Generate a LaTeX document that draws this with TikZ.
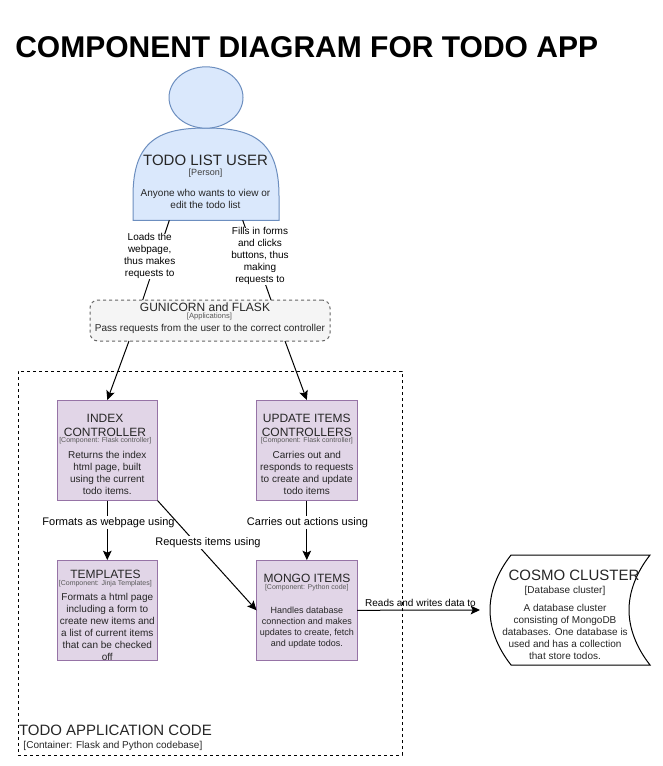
\documentclass[tikz,border=0pt]{standalone}
\usepackage{fontspec}
\setmainfont{Liberation Sans}
\usetikzlibrary{calc,arrows.meta,shapes.geometric}
\tikzset{
  x=0.75pt,y=-0.75pt,
  txt/.style={inner sep=0pt,outer sep=0pt,align=center,text=black},
  big/.style={txt,font=\fontsize{11.25pt}{13.5pt}\selectfont,text=black!85},
  mid/.style={txt,font=\fontsize{9pt}{11pt}\selectfont,text=black!85},
  sub/.style={txt,font=\fontsize{5.25pt}{6.3pt}\selectfont,text=black!65},
  sublg/.style={txt,font=\fontsize{6.75pt}{8pt}\selectfont,text=black!75},
  desc/.style={txt,font=\fontsize{7.5pt}{9pt}\selectfont,text=black!85},
  descsm/.style={txt,font=\fontsize{6.75pt}{8.25pt}\selectfont,text=black!85},
  lab/.style={txt,font=\fontsize{7.5pt}{9pt}\selectfont},
  stacklab/.style={txt,font=\fontsize{7.5pt}{9pt}\selectfont,fill=white},
  elab/.style={txt,font=\fontsize{8.25pt}{10pt}\selectfont,fill=white,inner ysep=1pt},
  fine/.style={dash pattern=on 2.25pt off 2.25pt},
  comp/.style={draw=purpleline,fill=purplefill,line width=0.75pt,minimum width=75.4pt,minimum height=75.4pt,inner sep=0pt,outer sep=0pt},
  link/.style={draw=black,line width=0.75pt},
  arrow/.style={link,-{Stealth[length=7pt,width=6.5pt,inset=1.5pt]}},
}
\definecolor{purplefill}{HTML}{E1D5E7}
\definecolor{purpleline}{HTML}{9673A6}
\definecolor{bluefill}{HTML}{DAE8FC}
\definecolor{blueline}{HTML}{6C8EBF}
\definecolor{greyfill}{HTML}{F5F5F5}
\definecolor{greyline}{HTML}{666666}
\begin{document}
\begin{tikzpicture}
\useasboundingbox (0,0) rectangle (662,766);
\node[anchor=west,inner sep=0pt,font=\fontsize{22.5pt}{27pt}\selectfont\bfseries] (title) at (15,47.5) {COMPONENT DIAGRAM FOR TODO APP};

% person
\node[inner sep=0pt,outer sep=0pt,minimum width=109.5pt,minimum height=69pt] (user) at (206,174.3) {};
\draw[draw=blueline,fill=bluefill,line width=0.75pt] (133,220.5) -- (133,196) .. controls (133,140) and (160,128) .. (206,128) .. controls (252,128) and (279,140) .. (279,196) -- (279,220.5) -- cycle;
\node[ellipse,draw=blueline,fill=bluefill,line width=0.75pt,inner sep=0pt,outer sep=0pt,minimum width=55.5pt,minimum height=46pt] (head) at (206,97.5) {};
\node[big] (usert) at (205.5,160.5) {TODO LIST USER};
\node[sublg] (users) at (205.5,173) {[Person]};
\node[desc] (userd) at (205.5,199.2) {Anyone who wants to view or\\edit the todo list};

% gateway
\node[draw=greyline,fill=greyfill,fine,line width=0.75pt,rounded corners=6pt,minimum width=180pt,minimum height=30.75pt,inner sep=0pt,outer sep=0pt] (gun) at (210,320.5) {};
\node[mid] (gunt) at (205,307.5) {GUNICORN and FLASK};
\node[sub,font=\fontsize{5.7pt}{7pt}\selectfont] (guns) at (209.5,316.5) {[Applications]};
\node[desc] (gund) at (210,329) {Pass requests from the user to the correct controller};

% components
\node[comp] (index) at (107.3,450.3) {};
\node[mid] (indext) at (105,425.5) {INDEX\\CONTROLLER};
\node[sub] (indexs) at (105.3,440.5) {[Component: Flask controller]};
\node[desc] (indexd) at (107.3,472.5) {Returns the index\\html page, built\\using the current\\todo items.};

\node[comp] (update) at (306.8,450.3) {};
\node[mid] (updatet) at (306.8,425.5) {UPDATE ITEMS\\CONTROLLERS};
\node[sub] (updates) at (306.8,440.5) {[Component: Flask controller]};
\node[desc] (updated) at (306.8,473) {Carries out and\\responds to requests\\to create and update\\todo items};

\node[comp] (templ) at (107.3,610.3) {};
\node[mid] (templt) at (105.5,574.5) {TEMPLATES};
\node[sub] (templs) at (105.3,584) {[Component: Jinja Templates]};
\node[desc] (templd) at (107.3,626.5) {Formats a html page\\including a form to\\create new items and\\a list of current items\\that can be checked\\off};

\node[comp] (mongo) at (306.8,610.3) {};
\node[mid] (mongot) at (307,578.5) {MONGO ITEMS};
\node[sub] (mongos) at (306.8,587.5) {[Component: Python code]};
\node[descsm] (mongod) at (306.8,627.5) {Handles database\\connection and makes\\updates to create, fetch\\and update todos.};

% database
\node[inner sep=0pt,outer sep=0pt,minimum width=120pt,minimum height=82.5pt] (db) at (570,610) {};
\draw[draw=black,fill=white,line width=0.75pt] (511,555) -- (650,555) .. controls (636,573) and (629,592) .. (629,610) .. controls (629,628) and (636,647) .. (650,665) -- (511,665) .. controls (497,647) and (490,628) .. (490,610) .. controls (490,592) and (497,573) .. (511,555) -- cycle;
\node[big] (dbt) at (574,575) {COSMO CLUSTER};
\node[desc] (dbs) at (565,590.5) {[Database cluster]};
\node[desc] (dbd) at (565,631.5) {A database cluster\\consisting of MongoDB\\databases. One database is\\used and has a collection\\that store todos.};

% connectors
\draw[link] ($(user.south)+(-36.7,0)$) -- ($(gun.north)+(-67.3,0)$);
\node[stacklab] (l1) at (149.7,256.4) {Loads the\\webpage,\\thus makes\\requests to};
\draw[link] ($(user.south)+(36.7,0)$) -- ($(gun.north)+(61,0)$);
\node[stacklab] (l2) at (260,256.2) {Fills in forms\\and clicks\\buttons, thus\\making\\requests to};
\draw[arrow] ($(gun.south)+(-81,0)$) -- (index.north);
\draw[arrow] ($(gun.south)+(75,0)$) -- (update.north);
\draw[arrow] (index.south) -- (templ.north);
\node[elab] (l3) at (108.5,522.3) {Formats as webpage using};
\draw[arrow] (update.south) -- (mongo.north);
\node[elab] (l4) at (307.5,522.3) {Carries out actions using};
\draw[arrow] (index.south east) -- (mongo.west);
\node[elab] (l5) at (208,542.3) {Requests items using};
\coordinate (dbin) at (480,610);
\draw[arrow] (mongo.east) -- (dbin);
\node[lab] (l6) at (420.5,602.5) {Reads and writes data to};

% container
\node[draw=black,fine,line width=0.75pt,minimum width=288pt,minimum height=288pt,inner sep=0pt,outer sep=0pt] (cont) at (210,563) {};
\node[big,anchor=west] (contt) at (19,730.5) {TODO APPLICATION CODE};
\node[desc,anchor=west] (conts) at (23.5,745.5) {[Container: Flask and Python codebase]};
\end{tikzpicture}
\end{document}
